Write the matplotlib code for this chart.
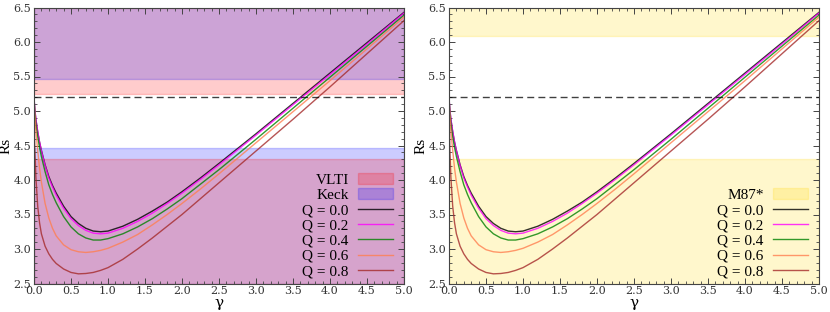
"""Shadow radius Rs versus gamma for several Q, with observational bands."""

import matplotlib
matplotlib.use("Agg")
import matplotlib.pyplot as plt
from matplotlib.ticker import MultipleLocator

# gamma grid
gamma = [0, 0.01, 0.025, 0.05, 0.075, 0.1, 0.15, 0.2, 0.25, 0.3, 0.4, 0.5,
         0.6, 0.7, 0.8, 0.9, 1.0, 1.2, 1.4, 1.6, 1.8, 2.0, 2.25, 2.5, 3.0,
         3.5, 4.0, 4.5, 5.0]

rs_q00 = [5.196, 5.03, 4.88, 4.70, 4.55, 4.43, 4.22, 4.05, 3.92, 3.81, 3.62,
          3.47, 3.37, 3.30, 3.26, 3.25, 3.26, 3.33, 3.43, 3.55, 3.68, 3.83,
          4.03, 4.24, 4.67, 5.11, 5.55, 5.99, 6.43]
rs_q02 = [5.196, 5.04, 4.89, 4.70, 4.55, 4.42, 4.21, 4.03, 3.90, 3.78, 3.59,
          3.44, 3.34, 3.27, 3.23, 3.22, 3.23, 3.30, 3.40, 3.52, 3.66, 3.81,
          4.01, 4.22, 4.65, 5.09, 5.53, 5.97, 6.42]
rs_q04 = [5.196, 4.98, 4.82, 4.62, 4.47, 4.34, 4.12, 3.93, 3.79, 3.67, 3.47,
          3.32, 3.22, 3.16, 3.13, 3.13, 3.15, 3.22, 3.32, 3.44, 3.58, 3.73,
          3.94, 4.15, 4.59, 5.04, 5.49, 5.94, 6.39]
rs_q06 = [5.196, 4.95, 4.72, 4.43, 4.17, 3.97, 3.66, 3.45, 3.30, 3.19, 3.06,
          2.99, 2.96, 2.95, 2.96, 2.98, 3.01, 3.10, 3.21, 3.35, 3.50, 3.66,
          3.87, 4.09, 4.54, 4.99, 5.44, 5.90, 6.36]
rs_q08 = [5.196, 4.50, 4.05, 3.62, 3.38, 3.22, 3.04, 2.93, 2.85, 2.79, 2.71,
          2.66, 2.64, 2.645, 2.66, 2.69, 2.73, 2.85, 3.00, 3.16, 3.33, 3.50,
          3.73, 3.96, 4.42, 4.88, 5.35, 5.83, 6.31]

q_labels = ["Q = 0.0", "Q = 0.2", "Q = 0.4", "Q = 0.6", "Q = 0.8"]
q_colors = ["black", "magenta", "green", "coral", "brown"]
rs_all = [rs_q00, rs_q02, rs_q04, rs_q06, rs_q08]

rs_schw = 5.196  # dashed reference line

# excluded regions (lower band top, upper band bottom)
vlti_band = (4.31, 5.25)
keck_band = (4.47, 5.47)
m87_band = (4.31, 6.08)

y_min, y_max = 2.5, 6.5

plt.rcParams["font.family"] = ["DejaVu Serif"]
plt.rcParams["axes.edgecolor"] = "#444444"
plt.rcParams["xtick.color"] = "#444444"
plt.rcParams["ytick.color"] = "#444444"
plt.rcParams["xtick.labelcolor"] = "#333333"
plt.rcParams["ytick.labelcolor"] = "#333333"

fig = plt.figure(figsize=(8.3, 3.12), dpi=100)
ax1 = fig.add_axes([34 / 830, 28.5 / 312, 370 / 830, 276 / 312])
ax2 = fig.add_axes([449 / 830, 28.5 / 312, 370 / 830, 276 / 312])


def style_axes(ax):
    ax.set_xlim(0, 5)
    ax.set_ylim(y_min, y_max)
    ax.xaxis.set_major_locator(MultipleLocator(0.5))
    ax.xaxis.set_minor_locator(MultipleLocator(0.1))
    ax.yaxis.set_major_locator(MultipleLocator(0.5))
    ax.yaxis.set_minor_locator(MultipleLocator(0.1))
    ax.tick_params(which="both", direction="in", top=True, right=True,
                   labelsize=8, pad=2)
    ax.tick_params(which="major", length=4, width=0.7)
    ax.tick_params(which="minor", length=2, width=0.6)
    ax.set_xlabel("γ", fontsize=11, labelpad=0)
    ax.set_ylabel("Rs", fontsize=11, labelpad=1,
                  family=["Liberation Serif"])


def draw_curves(ax):
    handles = []
    for rs, lab, col in zip(rs_all, q_labels, q_colors):
        h, = ax.plot(gamma, rs, color=col, lw=1.0, alpha=0.8, label=lab)
        handles.append(h)
    ax.axhline(rs_schw, color="black", ls="--", lw=1.0, alpha=0.75,
               dashes=(5, 3))
    return handles


legend_kw = dict(loc="lower right", bbox_to_anchor=(0.985, 0.0),
                 frameon=False, markerfirst=False,
                 prop={"family": "Liberation Serif", "size": 11},
                 handlelength=2.3, handletextpad=0.6, labelspacing=0.1,
                 borderpad=0.2, borderaxespad=0.15)

# left panel: VLTI and Keck
v_top = ax1.axhspan(vlti_band[1], y_max, color="red", alpha=0.2, label="VLTI")
k_top = ax1.axhspan(keck_band[1], y_max, color="blue", alpha=0.2, label="Keck")
ax1.axhspan(y_min, keck_band[0], color="blue", alpha=0.2)
ax1.axhspan(y_min, vlti_band[0], color="red", alpha=0.2)
lines1 = draw_curves(ax1)
style_axes(ax1)
ax1.legend(handles=[v_top, k_top] + lines1, **legend_kw)

# right panel: M87*
m_top = ax2.axhspan(m87_band[1], y_max, color="gold", alpha=0.2, label="M87*")
ax2.axhspan(y_min, m87_band[0], color="gold", alpha=0.2)
lines2 = draw_curves(ax2)
style_axes(ax2)
ax2.legend(handles=[m_top] + lines2, **legend_kw)

fig.savefig("out.png", dpi=100)
